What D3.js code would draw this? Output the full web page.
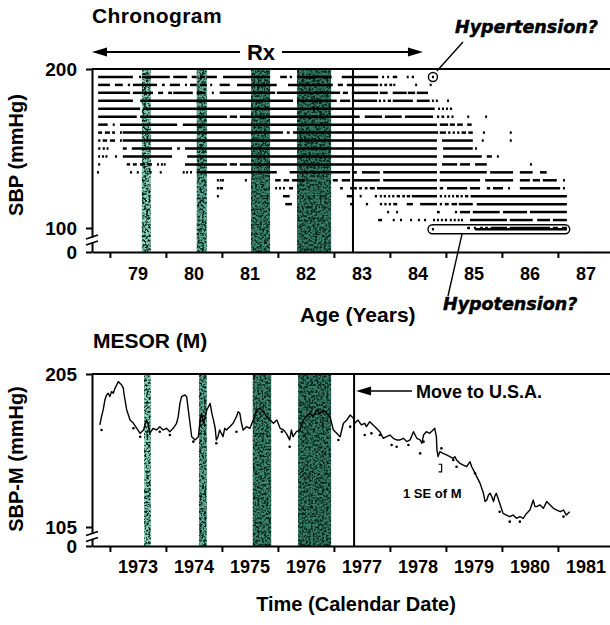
<!DOCTYPE html>
<html><head><meta charset="utf-8">
<script src="https://cdn.jsdelivr.net/npm/d3@7"></script>
<style>
body{margin:0;background:#fff}
svg{display:block;font-family:"Liberation Sans",Arial,sans-serif;font-weight:bold}
</style></head><body><svg id="c" width="610" height="625"></svg>
<script>
// ---------------- data ----------------
const ageTicks = [79,80,81,82,83,84,85,86,87];
const yearTicks = [1973,1974,1975,1976,1977,1978,1979,1980,1981];
const sbpTicks = [0,100,200];
const mesorTicks = [0,105,205];
const sbpLevels = [195,190,185,180,175,170,165,160,155,150,145,140,135,130,125,120,115,110,105,100,95];
// per SBP level: [startAge, endAge] stretches with readings
const rowSegments = [
 [[78.79,79.41],[79.52,79.54],[79.57,80.07],[80.13,80.38],[80.46,80.55],[80.61,80.70],[80.73,80.91],[81.02,81.86],[82.04,82.16],[82.21,82.25],[82.34,82.96],[83.14,83.79],[83.86,83.89],[83.95,83.98],[84.05,84.13],[84.30,84.32],[84.39,84.43],[84.75,84.77]],
 [[78.79,79.00],[79.09,79.23],[79.32,79.36],[79.41,79.84],[79.93,79.98],[80.07,80.25],[80.34,80.36],[80.43,80.55],[80.61,80.73],[80.79,80.82],[80.96,81.14],[81.27,81.98],[82.18,82.98],[83.07,83.16],[83.23,83.79],[83.82,83.86],[83.90,83.95],[83.99,84.04],[84.06,84.09],[84.45,84.48],[84.71,84.73]],
 [[78.79,79.36],[79.41,79.77],[79.86,79.95],[80.04,80.11],[80.13,80.48],[80.55,80.70],[80.82,80.84],[80.96,81.95],[81.98,83.11],[83.16,83.25],[83.32,83.79],[83.82,83.96],[84.05,84.30],[84.32,84.45],[84.48,84.68]],
 [[78.79,79.41],[79.54,82.27],[82.34,83.05],[83.11,83.29],[83.34,83.77],[83.80,83.84],[83.88,83.92],[83.96,84.02],[84.05,84.41],[84.48,84.71],[84.75,84.78],[84.82,84.85],[85.02,85.04]],
 [[78.79,79.54],[79.59,84.80],[84.86,84.89],[84.93,84.96],[85.00,85.03],[85.07,85.11]],
 [[78.79,79.48],[79.54,81.09],[81.14,81.27],[81.32,83.46],[83.55,83.86],[83.91,84.21],[84.27,84.77],[84.84,84.88],[84.92,84.97],[85.02,85.06],[85.10,85.13],[85.38,85.40],[85.70,85.72]],
 [[78.79,78.96],[79.05,79.07],[79.18,80.20],[80.30,84.84],[84.89,85.04],[85.07,85.16],[85.20,85.30],[85.38,85.46]],
 [[78.79,78.86],[78.91,79.00],[79.04,79.09],[79.18,79.20],[79.23,82.09],[82.16,82.21],[82.27,84.86],[84.89,85.00],[85.04,85.08],[85.12,85.16],[85.20,85.24],[85.28,85.36],[85.40,85.48],[85.66,85.68],[86.14,86.16]],
 [[78.79,78.83],[78.87,78.95],[79.00,79.09],[79.18,79.20],[79.23,84.84],[84.93,85.48],[85.64,85.66],[86.14,86.16]],
 [[78.79,78.83],[78.87,78.91],[78.94,78.96],[79.23,79.30],[79.39,80.11],[80.20,80.25],[80.34,84.84],[84.95,85.48],[85.52,85.54]],
 [[78.79,78.82],[78.86,78.89],[78.92,78.95],[79.09,79.11],[79.23,80.11],[80.38,84.84],[84.95,85.64],[85.73,85.82],[85.91,85.93]],
 [[78.79,78.81],[79.30,79.36],[79.41,79.48],[79.54,79.63],[79.68,79.75],[79.84,79.87],[79.91,79.94],[79.96,79.98],[80.34,81.09],[81.14,81.27],[81.32,84.84],[84.93,85.20],[85.25,85.43],[85.52,85.73],[86.50,86.52]],
 [[78.77,78.79],[79.36,79.38],[79.48,79.50],[79.71,79.73],[79.89,79.91],[80.30,80.33],[80.36,80.38],[80.43,80.45],[80.55,81.98],[82.21,83.29],[83.34,83.41],[83.50,83.82],[83.88,84.84],[84.89,85.73],[85.79,86.20],[86.32,86.55],[86.68,86.80]],
 [[80.91,80.93],[80.96,80.98],[81.00,81.02],[81.41,81.43],[81.95,82.05],[82.10,82.20],[82.25,82.48],[82.98,83.07],[83.14,83.29],[83.34,83.82],[83.88,84.84],[84.89,85.61],[85.70,86.20],[86.32,86.50],[86.55,86.68],[86.73,86.98],[87.09,87.11]],
 [[80.91,80.93],[80.96,81.02],[81.95,81.98],[82.02,82.05],[82.09,82.12],[82.20,82.27],[83.11,83.16],[83.29,83.32],[83.36,83.41],[83.45,83.50],[83.55,83.60],[83.64,83.73],[83.77,84.84],[84.89,84.95],[85.02,85.38],[85.43,85.61],[85.73,85.79],[85.84,86.02],[86.11,86.13],[86.32,87.04],[87.09,87.11]],
 [[80.91,80.93],[82.09,82.21],[83.23,83.34],[83.46,83.48],[83.73,83.77],[83.82,83.85],[83.89,83.93],[83.97,84.00],[84.04,84.08],[84.12,84.18],[84.22,84.27],[84.30,84.36],[84.39,84.84],[84.89,84.93],[84.97,85.00],[85.04,85.07],[85.11,85.14],[85.18,85.23],[85.26,85.30],[85.34,85.40],[85.44,87.16]],
 [[82.13,82.25],[83.29,83.32],[83.57,83.61],[83.82,83.86],[83.90,83.94],[83.98,84.02],[84.06,84.13],[84.30,84.41],[84.54,84.84],[84.89,84.93],[84.98,85.05],[85.10,85.20],[85.23,85.48],[85.55,87.16]],
 [[83.95,83.98],[84.11,84.14],[84.84,84.89],[85.16,85.20],[85.25,85.43],[85.48,85.96],[86.02,86.45],[86.50,87.16]],
 [[83.79,83.86],[84.05,84.07],[84.18,84.20],[84.36,84.38],[84.50,84.52],[84.61,84.63],[84.77,84.80],[84.84,84.87],[84.91,84.94],[84.98,85.02],[85.07,85.10],[85.14,85.17],[85.21,85.24],[85.27,85.30],[85.43,86.09],[86.14,86.55],[86.63,86.86],[86.91,87.16]],
 [[85.38,85.43],[85.50,85.54],[85.61,85.66],[85.70,85.75],[85.80,86.09],[86.14,86.86],[86.91,87.00],[87.07,87.16]],
 [[84.75,84.77],[85.52,87.16]]
];
const treatmentAges = [[79.57,79.73],[80.55,80.73],[81.52,81.86],[82.34,82.95]];
const treatmentYears = [[1973.61,1973.73],[1974.59,1974.73],[1975.55,1975.88],[1976.36,1976.95]];
const bandShades = ["#8ad0ba","#5fad95","#3d8770","#367b65"];
const moveAge = 83.34, moveYear = 1977.36;
const rxSpan = [78.68, 84.59];
const hyperPoint = [84.75, 195];
const hypoSpan = [84.68, 87.21], hypoLevel = 95;

const mesorYears = [1972.82,1972.85,1972.88,1972.91,1972.94,1972.97,1973.00,1973.03,1973.06,1973.09,
1973.12,1973.15,1973.18,1973.21,1973.24,1973.25,1973.27,1973.30,1973.33,1973.36,
1973.42,1973.48,1973.54,1973.60,1973.65,1973.68,1973.71,1973.77,1973.83,1973.89,
1973.95,1974.01,1974.07,1974.13,1974.19,1974.22,1974.25,1974.28,1974.34,1974.37,
1974.40,1974.43,1974.46,1974.52,1974.58,1974.61,1974.64,1974.67,1974.70,1974.73,
1974.79,1974.82,1974.85,1974.88,1974.90,1974.93,1974.96,1974.99,1975.02,1975.05,
1975.08,1975.14,1975.20,1975.26,1975.29,1975.32,1975.35,1975.38,1975.44,1975.50,
1975.56,1975.62,1975.68,1975.74,1975.80,1975.86,1975.92,1975.98,1976.04,1976.10,
1976.15,1976.21,1976.24,1976.27,1976.33,1976.39,1976.45,1976.51,1976.57,1976.63,
1976.69,1976.75,1976.81,1976.87,1976.93,1976.99,1977.05,1977.11,1977.17,1977.23,
1977.29,1977.35,1977.37,1977.43,1977.49,1977.55,1977.58,1977.64,1977.70,1977.76,
1977.82,1977.88,1977.94,1978.00,1978.06,1978.12,1978.18,1978.24,1978.30,1978.36,
1978.42,1978.45,1978.48,1978.54,1978.57,1978.60,1978.65,1978.71,1978.77,1978.80,
1978.83,1978.84,1978.86,1978.89,1978.95,1979.01,1979.07,1979.13,1979.16,1979.19,
1979.25,1979.31,1979.37,1979.43,1979.46,1979.49,1979.55,1979.61,1979.67,1979.70,
1979.73,1979.76,1979.79,1979.82,1979.85,1979.87,1979.90,1979.96,1980.02,1980.08,
1980.14,1980.20,1980.26,1980.32,1980.38,1980.44,1980.50,1980.53,1980.56,1980.59,
1980.62,1980.68,1980.74,1980.80,1980.86,1980.92,1980.98,1981.04,1981.10,1981.15,
1981.21];
const mesorValues = [171.7,177.1,181.5,188.0,191.3,192.4,190.2,193.5,192.4,195.6,
197.8,200.0,198.9,197.8,195.6,192.4,188.0,181.5,178.2,174.9,
172.8,169.5,166.2,168.4,174.9,172.8,166.2,169.5,168.4,170.6,
168.4,169.5,167.3,169.5,172.8,177.1,185.8,190.2,191.3,190.2,
181.5,172.8,164.0,161.9,164.0,174.9,179.3,172.8,177.1,181.5,
185.8,179.3,174.9,169.5,161.9,164.0,168.4,166.2,164.0,169.5,
168.4,170.6,172.8,177.1,180.4,179.3,172.8,168.4,170.6,169.5,
174.9,181.5,182.6,180.4,177.1,174.9,172.8,174.9,169.5,168.4,
166.2,161.9,168.4,164.0,167.3,168.4,174.9,177.1,179.3,177.1,
181.5,179.3,181.5,179.3,177.1,168.4,166.2,164.0,172.8,174.9,
178.2,176.0,172.8,174.9,171.7,172.8,170.6,173.8,171.7,169.5,
167.3,163.0,164.0,165.1,163.0,161.9,161.9,163.0,160.8,161.9,
167.3,165.1,163.0,161.9,159.7,165.1,167.3,166.2,168.4,169.5,
164.0,155.3,151.0,154.2,153.1,152.1,151.0,149.9,151.0,148.8,
146.6,145.5,144.4,147.7,144.4,142.3,137.9,133.5,127.0,121.6,
122.6,125.9,127.0,124.8,121.6,124.8,127.0,120.5,113.9,112.8,
111.8,112.8,110.7,111.8,110.7,113.9,116.1,119.4,122.6,118.3,
118.3,119.4,117.2,121.6,119.4,117.2,116.1,115.0,116.1,112.8,
115.0];
const seYears = [1972.85,1973.42,1973.54,1973.89,1974.07,1974.49,1974.90,1975.26,1976.07,1976.21,1977.08,1977.29,1977.55,1977.67,1977.82,1978.03,1978.12,1978.33,1978.54,1978.60,1978.92,1979.13,1979.19,1979.52,1979.96,1980.14,1980.32,1981.10];
const seValues = [168.4,169.5,164.0,167.3,165.1,160.8,159.7,167.3,167.3,157.5,161.9,170.6,165.1,166.2,165.1,158.6,157.5,158.6,153.1,160.8,156.4,148.8,144.4,140.1,115.0,108.5,108.5,111.8];
const seMarker = {year:1978.87, lo:141, hi:146};

// ---------------- drawing ----------------
const svg = d3.select("#c");
const defs = svg.append("defs");
const f = defs.append("filter").attr("id","grain").attr("x",0).attr("y",0).attr("width",1).attr("height",1)
  .attr("color-interpolation-filters","sRGB");
f.append("feTurbulence").attr("type","fractalNoise").attr("baseFrequency","0.45").attr("numOctaves",4).attr("seed",11).attr("result","n");
f.append("feColorMatrix").attr("in","n").attr("type","matrix")
 .attr("values","0 0 0 0 0.02  0 0 0 0 0.14  0 0 0 0 0.10  4.2 0 0 0 -1.75").attr("result","d");
f.append("feComposite").attr("in","d").attr("in2","SourceGraphic").attr("operator","atop");

const xAge = d3.scaleLinear().domain([78.68, 87.93]).range([92, 610]);
const ySbp = d3.scaleLinear().domain([0,100,200]).range([252,228,69]);
const xYear = d3.scaleLinear().domain([1972.68, 1981.93]).range([92, 610]);
const yMes = d3.scaleLinear().domain([0,105,205]).range([546,527,374]);

function arrowHead(g, tipX, y, dir){ // dir -1 = points left
  const L = 15, H = 4.5;
  g.append("path").attr("d", `M${tipX},${y}L${tipX - dir*L},${y-H}L${tipX - dir*L},${y+H}Z`).attr("fill","#000");
}

function panel(x, y, yTicks, bands, moveAt, ticks, tickLabelY){
  const g = svg.append("g");
  g.selectAll("rect.band").data(bands).join("rect")
    .attr("x", d => x(d[0])).attr("width", d => x(d[1]) - x(d[0]))
    .attr("y", y(yTicks[2])).attr("height", y(0) - y(yTicks[2]))
    .attr("fill", (d,i) => bandShades[i]).attr("filter","url(#grain)");
  const ax = g.append("g").attr("transform",`translate(0,${y(0)})`)
    .call(d3.axisBottom(x).tickValues(ticks).tickSize(6).tickSizeOuter(0).tickFormat(""));
  ax.selectAll("path,line").attr("stroke","#000").attr("stroke-width",2);
  g.selectAll("text.xl").data(ticks).join("text")
    .attr("x", d => x(d + 0.5)).attr("y", tickLabelY)
    .attr("text-anchor","middle").attr("font-size",18).text(d => d);
  const ay = g.append("g").attr("transform","translate(92,0)")
    .call(d3.axisLeft(y).tickValues(yTicks).tickSize(6).tickSizeOuter(0).tickPadding(9));
  ay.selectAll("path,line").attr("stroke","#000").attr("stroke-width",2);
  ay.selectAll("text").attr("font-size",19).attr("font-family","Liberation Sans, Arial").attr("font-weight","bold").attr("fill","#000");
  g.append("line").attr("x1",92).attr("x2",610).attr("y1",y(yTicks[2])).attr("y2",y(yTicks[2]))
    .attr("stroke","#000").attr("stroke-width",2);
  const yb = (y(0) + y(yTicks[1])) / 2;
  g.append("rect").attr("x",89).attr("y",yb-2.5).attr("width",6).attr("height",5).attr("fill","#fff");
  [-3, 3].forEach(o => g.append("line").attr("x1",86).attr("x2",98)
     .attr("y1",yb+o+2).attr("y2",yb+o-2).attr("stroke","#000").attr("stroke-width",1.8));
  g.append("line").attr("x1",x(moveAt)).attr("x2",x(moveAt)).attr("y1",y(yTicks[2])).attr("y2",y(0))
    .attr("stroke","#000").attr("stroke-width",2);
  return g;
}

// ---- top: chronogram ----
const topG = panel(xAge, ySbp, sbpTicks, treatmentAges, moveAge, ageTicks, 280);
const rows = topG.append("g");
sbpLevels.forEach((lvl, i) => {
  rows.selectAll(null).data(rowSegments[i]).join("line")
    .attr("x1", d => xAge(d[0]))
    .attr("x2", d => Math.max(xAge(d[1]), xAge(d[0]) + 2))
    .attr("y1", ySbp(lvl)).attr("y2", ySbp(lvl))
    .attr("stroke","#000").attr("stroke-width",2.5);
});
const hx = xAge(hyperPoint[0]) + 1, hy = ySbp(hyperPoint[1]);
topG.append("circle").attr("cx",hx).attr("cy",hy).attr("r",4.5).attr("fill","none").attr("stroke","#000").attr("stroke-width",1.4);
topG.append("line").attr("x1",hx+4).attr("y1",hy-6).attr("x2",463).attr("y2",42).attr("stroke","#000").attr("stroke-width",1.4);
const annoFont = t => t.attr("font-family","DejaVu Sans").attr("font-weight","bold").attr("font-style","italic")
  .attr("font-size",17.5).attr("stroke","#000").attr("stroke-width",0.5);
annoFont(topG.append("text").attr("x",455).attr("y",33)).text("Hypertension?");
const bx0 = xAge(hypoSpan[0]), bx1 = xAge(hypoSpan[1]), by = ySbp(hypoLevel);
topG.append("rect").attr("x",bx0).attr("y",by-4.5).attr("width",bx1-bx0).attr("height",9).attr("rx",4.5)
  .attr("fill","none").attr("stroke","#000").attr("stroke-width",1.4);
topG.append("line").attr("x1",462).attr("y1",by+5).attr("x2",448).attr("y2",296).attr("stroke","#000").attr("stroke-width",1.4);
annoFont(topG.append("text").attr("x",443).attr("y",310)).text("Hypotension?");
const rxY = 52;
topG.append("line").attr("x1",xAge(rxSpan[0])+8).attr("x2",240).attr("y1",rxY).attr("y2",rxY).attr("stroke","#000").attr("stroke-width",2);
topG.append("line").attr("x1",282).attr("x2",xAge(rxSpan[1])-8).attr("y1",rxY).attr("y2",rxY).attr("stroke","#000").attr("stroke-width",2);
arrowHead(topG, xAge(rxSpan[0]), rxY, -1);
arrowHead(topG, xAge(rxSpan[1]), rxY, 1);
topG.append("text").attr("x",261).attr("y",60).attr("text-anchor","middle").attr("font-size",22).text("Rx");
svg.append("text").attr("x",92).attr("y",23).attr("font-size",21).attr("letter-spacing",0.4).text("Chronogram");
svg.append("text").attr("x",300).attr("y",322).attr("font-size",21).text("Age (Years)");
svg.append("text").attr("transform","translate(23,155) rotate(-90)").attr("text-anchor","middle").attr("font-size",20).text("SBP (mmHg)");

// ---- bottom: MESOR ----
const botG = panel(xYear, yMes, mesorTicks, treatmentYears, moveYear, yearTicks, 573);
const pts = d3.zip(mesorYears, mesorValues);
botG.append("path").datum(pts)
  .attr("d", d3.line().x(d => xYear(d[0])).y(d => yMes(d[1])))
  .attr("fill","none").attr("stroke","#000").attr("stroke-width",1.4).attr("stroke-linejoin","round");
botG.selectAll("circle.se").data(d3.zip(seYears, seValues)).join("circle")
  .attr("cx", d => xYear(d[0])).attr("cy", d => yMes(d[1])).attr("r",1.3).attr("fill","#000");
const sx = xYear(seMarker.year);
botG.append("path").attr("d",`M${sx},${yMes(seMarker.hi)}h3V${yMes(seMarker.lo)}h-3`)
  .attr("fill","none").attr("stroke","#000").attr("stroke-width",1.2);
botG.append("text").attr("x",403).attr("y",498).attr("font-size",13).text("1 SE of M");
const mvY = 391;
botG.append("line").attr("x1",xYear(moveYear)+10).attr("x2",412).attr("y1",mvY).attr("y2",mvY).attr("stroke","#000").attr("stroke-width",1.6);
arrowHead(botG, xYear(moveYear)+2, mvY, -1);
botG.append("text").attr("x",416).attr("y",398).attr("font-size",18).text("Move to U.S.A.");
svg.append("text").attr("x",93).attr("y",348).attr("font-size",21).text("MESOR (M)");
svg.append("text").attr("x",356).attr("y",611).attr("text-anchor","middle").attr("font-size",20).text("Time (Calendar Date)");
svg.append("text").attr("transform","translate(23,459) rotate(-90)").attr("text-anchor","middle").attr("font-size",20).text("SBP-M (mmHg)");
</script></body></html>
